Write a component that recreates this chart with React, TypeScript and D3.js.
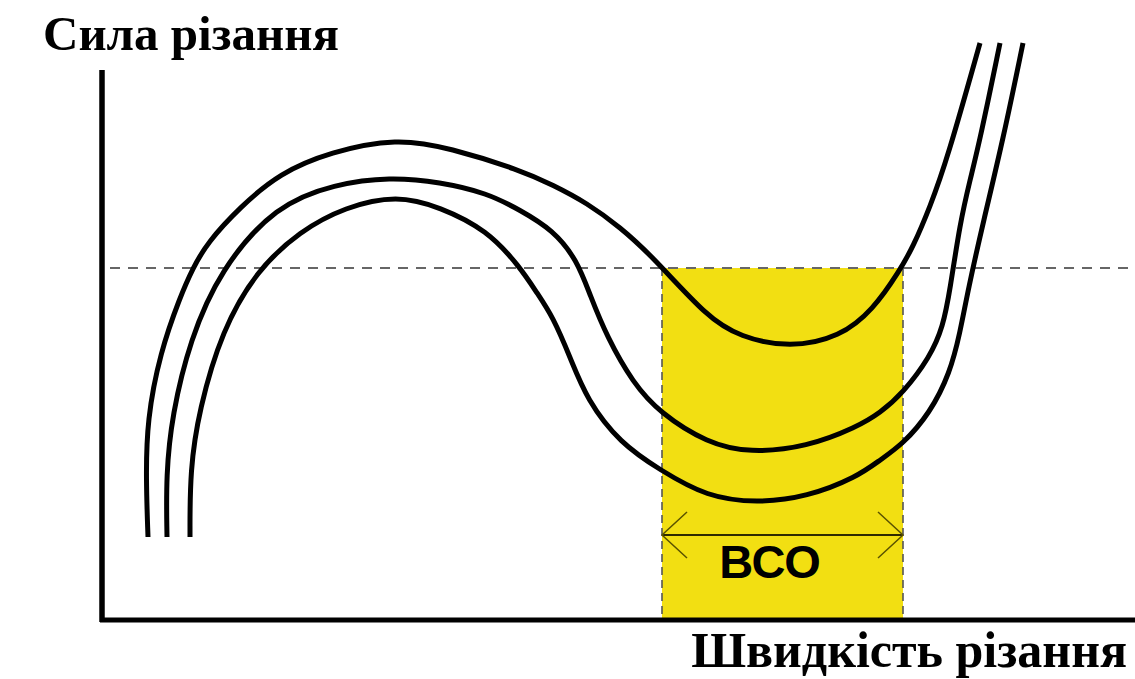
import React from "react";
import * as d3 from "d3";

// Data in chart units: x = cutting speed (0..103.3), y = cutting force (0..58)
const curveOuterX = [4.6, 4.4, 4.5, 5.8, 7.8, 9.1, 10.5, 13.8, 17.8, 22.8, 29.5, 34.8, 41.8, 45.1, 48.5, 51.8, 55.1, 60.5, 63.8, 68.8, 73.8, 77.1, 79.8, 81.1, 82.8, 84.5, 87.8];
const curveOuterY = [8.3, 14.0, 20.0, 26.7, 32.3, 35.2, 37.7, 41.3, 44.7, 46.8, 48.2, 47.2, 45.0, 43.5, 41.7, 39.3, 36.3, 30.3, 28.3, 27.2, 28.3, 31.0, 35.0, 37.3, 41.3, 46.0, 57.7];

const curveMiddleX = [6.5, 6.4, 7.0, 8.8, 11.8, 17.4, 23.3, 28.8, 33.8, 38.5, 41.8, 45.1, 47.5, 48.8, 50.5, 53.1, 55.8, 60.5, 64.8, 70.5, 75.5, 77.8, 80.1, 82.8, 84.1, 84.8, 85.8, 86.8, 87.8, 89.8];
const curveMiddleY = [8.3, 14.5, 20.5, 28.0, 35.0, 41.5, 43.6, 44.3, 43.8, 42.7, 41.0, 39.0, 36.0, 32.5, 28.3, 23.7, 20.7, 17.7, 16.7, 17.3, 19.3, 20.7, 22.7, 26.3, 29.3, 33.0, 39.7, 44.0, 48.0, 57.7];

const curveInnerX = [8.8, 8.8, 9.7, 12.0, 15.5, 19.8, 24.3, 29.5, 33.8, 38.5, 41.8, 43.5, 45.1, 46.8, 48.5, 51.8, 55.8, 60.5, 65.5, 70.5, 75.5, 77.8, 80.1, 82.8, 84.8, 85.8, 86.6, 88.1, 90.1, 92.1];
const curveInnerY = [8.3, 15.0, 21.0, 29.0, 35.0, 38.9, 41.3, 42.5, 41.3, 39.0, 35.3, 32.7, 30.3, 26.3, 22.0, 17.7, 15.0, 12.3, 11.7, 12.3, 14.3, 16.0, 17.6, 20.7, 24.7, 28.7, 33.0, 39.7, 48.0, 57.7];

const thresholdForce = 35.2;
const zoneStart = 56.0;
const zoneEnd = 80.1;
const arrowLevel = 8.5;
const labelX = 66.8;
const labelY = 4.2;
const zoneLabel = "ВСО";
const yAxisTitle = "Сила різання";
const xAxisTitle = "Швидкість різання";
const xDomain = [0, 103.3];
const yDomain = [0, 58];
const yAxisTop = 55;

export default function App() {
  const W = 1135;
  const H = 679;
  const x = d3.scaleLinear().domain(xDomain).range([102, 1135]);
  const y = d3.scaleLinear().domain(yDomain).range([620, 40]);

  const line = d3
    .line<[number, number]>()
    .x((d) => x(d[0]))
    .y((d) => y(d[1]))
    .curve(d3.curveBasis);

  const curves = [
    d3.zip(curveOuterX, curveOuterY) as [number, number][],
    d3.zip(curveMiddleX, curveMiddleY) as [number, number][],
    d3.zip(curveInnerX, curveInnerY) as [number, number][],
  ];

  const zx0 = x(zoneStart);
  const zx1 = x(zoneEnd);
  const ay = y(arrowLevel);
  const ty = y(thresholdForce);

  return (
    <svg
      width={W}
      height={H}
      style={{ position: "absolute", left: 0, top: 0, background: "#fff" }}
    >
      {/* yellow zone */}
      <rect x={zx0} y={ty} width={zx1 - zx0} height={y(0) - ty} fill="#f2df12" />
      <line x1={zx0} x2={zx0} y1={ty} y2={y(0)} stroke="#555" strokeWidth={1.6} strokeDasharray="8,5" />
      <line x1={zx1} x2={zx1} y1={ty} y2={y(0)} stroke="#555" strokeWidth={1.6} strokeDasharray="8,5" />

      {/* threshold dashed line */}
      <line x1={x(0.8)} x2={x(xDomain[1])} y1={ty} y2={ty} stroke="#666" strokeWidth={2} strokeDasharray="10,8" />

      {/* curves */}
      {curves.map((c, i) => (
        <path key={i} d={line(c) || ""} fill="none" stroke="#000" strokeWidth={5} strokeLinecap="butt" />
      ))}

      {/* arrow */}
      <line x1={zx0} x2={zx1} y1={ay} y2={ay} stroke="#2e2a00" strokeWidth={2} />
      <polyline points={`${zx0 + 25},${ay - 23} ${zx0},${ay} ${zx0 + 25},${ay + 23}`} fill="none" stroke="#5a5200" strokeWidth={1.5} />
      <polyline points={`${zx1 - 25},${ay - 23} ${zx1},${ay} ${zx1 - 25},${ay + 23}`} fill="none" stroke="#5a5200" strokeWidth={1.5} />
      <text
        x={x(labelX)}
        y={y(labelY)}
        textAnchor="middle"
        fontFamily="'Liberation Sans', Arial, sans-serif"
        fontWeight="bold"
        fontSize={47}
        fill="#000"
      >
        {zoneLabel}
      </text>

      {/* axes */}
      <line x1={x(0)} x2={x(0)} y1={y(yAxisTop)} y2={y(0) + 2} stroke="#000" strokeWidth={5.5} />
      <line x1={x(0) - 2} x2={x(xDomain[1])} y1={y(0)} y2={y(0)} stroke="#000" strokeWidth={5} />

      {/* titles */}
      <text
        x={43}
        y={50}
        fontFamily="'Liberation Serif', 'Times New Roman', serif"
        fontWeight="bold"
        fontSize={49}
        fill="#000"
      >
        {yAxisTitle}
      </text>
      <text
        x={1127}
        y={667}
        textAnchor="end"
        fontFamily="'Liberation Serif', 'Times New Roman', serif"
        fontWeight="bold"
        fontSize={50}
        fill="#000"
      >
        {xAxisTitle}
      </text>
    </svg>
  );
}
